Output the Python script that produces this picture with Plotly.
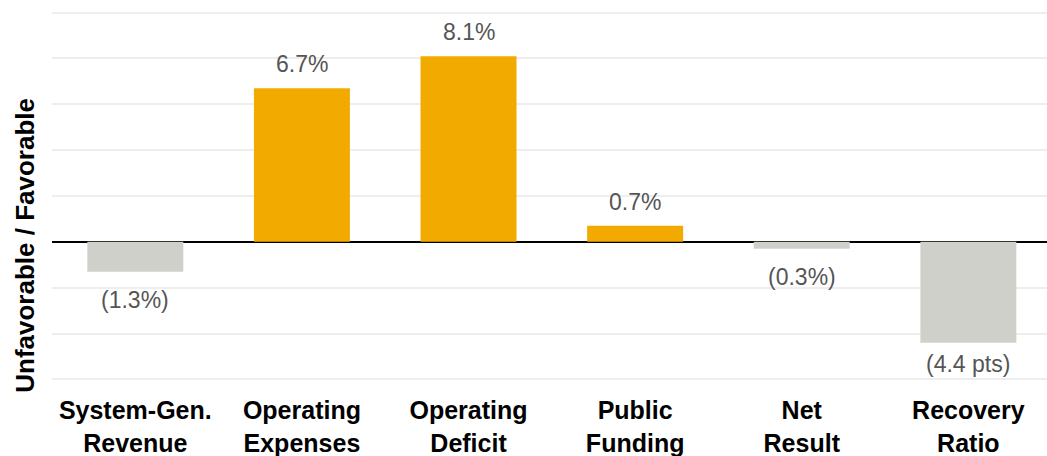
import plotly.graph_objects as go

categories = ["System-Gen.<br>Revenue", "Operating<br>Expenses", "Operating<br>Deficit",
              "Public<br>Funding", "Net<br>Result", "Recovery<br>Ratio"]
values = [-1.3, 6.7, 8.1, 0.7, -0.3, -4.4]
labels = ["(1.3%)", "6.7%", "8.1%", "0.7%", "(0.3%)", "(4.4 pts)"]

GOLD = "#F2AA00"
GRAY = "#D0D0CB"
colors = [GOLD if v > 0 else GRAY for v in values]

fig = go.Figure()
fig.add_trace(go.Bar(
    x=categories, y=values, marker=dict(color=colors, line=dict(width=0)),
    width=0.576, hoverinfo="skip", showlegend=False,
))

label_shift = [-28, 24, 24, 24, -28, -21]
for c, v, t, s in zip(categories, values, labels, label_shift):
    fig.add_annotation(x=c, y=v, text=t, showarrow=False, yshift=s,
                       font=dict(family="Liberation Sans, Arial", size=23, color="#555555"))

fig.add_annotation(xref="paper", yref="paper", x=(25 - 52) / 995, y=(384.4 - 246) / 376.4,
                   text="<b>Unfavorable / Favorable</b>", textangle=-90, showarrow=False,
                   xanchor="center", yanchor="middle",
                   font=dict(family="Liberation Sans, Arial", size=26, color="#000000"))

fig.update_layout(
    width=1047, height=456,
    margin=dict(l=52, r=0, t=8, b=72),
    plot_bgcolor="white", paper_bgcolor="white",
    font=dict(family="Liberation Sans, Arial"),
    xaxis=dict(range=[-0.5, 5.472], showgrid=False, showline=False, zeroline=False,
               ticks="", ticklabelstandoff=9,
               tickfont=dict(size=25, color="#000000", weight="bold")),
    yaxis=dict(range=[-6.2, 10.2], dtick=2, tick0=0, showticklabels=False,
               showgrid=True, gridcolor="#EEEEEE", gridwidth=2,
               zeroline=True, zerolinecolor="#000000", zerolinewidth=2, showline=False),
)

fig.write_html("out.html")
